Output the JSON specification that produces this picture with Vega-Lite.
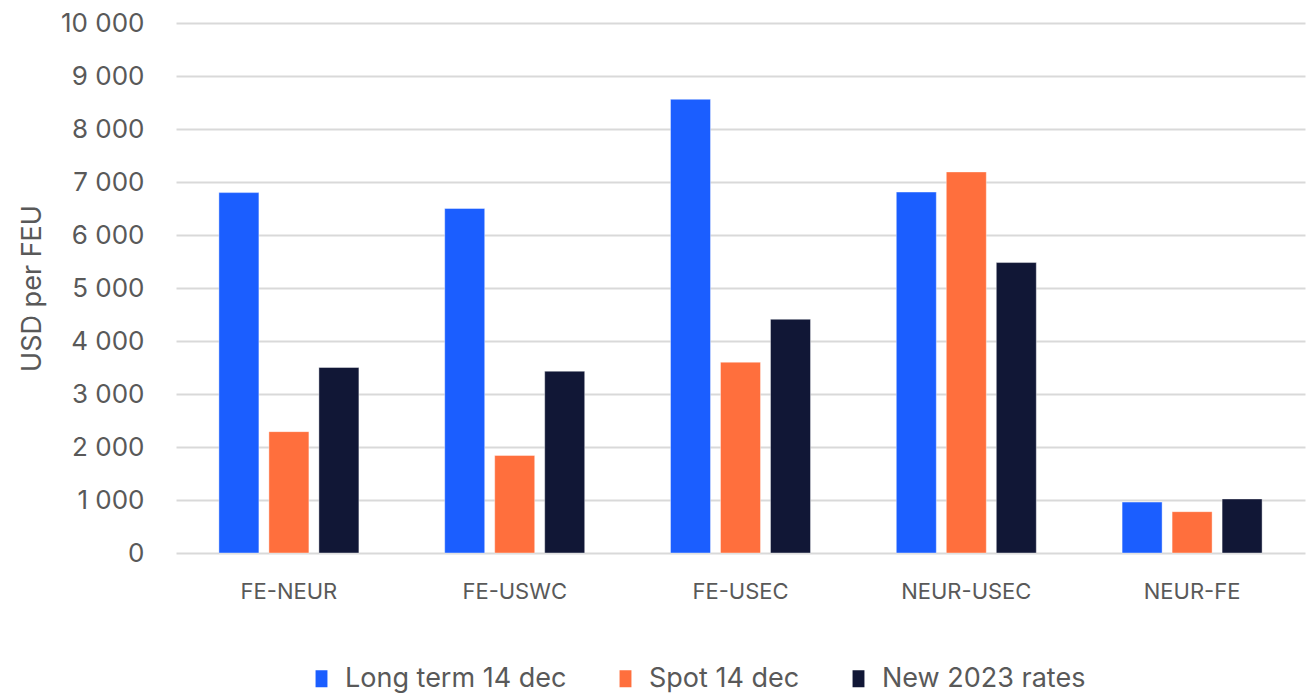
{
  "$schema": "https://vega.github.io/schema/vega-lite/v6.json",
  "width": 1129,
  "height": 530,
  "autosize": "none",
  "padding": {"left": 176, "top": 23, "right": 9, "bottom": 140},
  "background": "white",
  "data": {
    "values": [
      {"route": "FE-NEUR", "series": "Long term 14 dec", "value": 6800},
      {"route": "FE-NEUR", "series": "Spot 14 dec", "value": 2290},
      {"route": "FE-NEUR", "series": "New 2023 rates", "value": 3500},
      {"route": "FE-USWC", "series": "Long term 14 dec", "value": 6500},
      {"route": "FE-USWC", "series": "Spot 14 dec", "value": 1840},
      {"route": "FE-USWC", "series": "New 2023 rates", "value": 3430},
      {"route": "FE-USEC", "series": "Long term 14 dec", "value": 8560},
      {"route": "FE-USEC", "series": "Spot 14 dec", "value": 3600},
      {"route": "FE-USEC", "series": "New 2023 rates", "value": 4410},
      {"route": "NEUR-USEC", "series": "Long term 14 dec", "value": 6810},
      {"route": "NEUR-USEC", "series": "Spot 14 dec", "value": 7190},
      {"route": "NEUR-USEC", "series": "New 2023 rates", "value": 5480},
      {"route": "NEUR-FE", "series": "Long term 14 dec", "value": 960},
      {"route": "NEUR-FE", "series": "Spot 14 dec", "value": 780},
      {"route": "NEUR-FE", "series": "New 2023 rates", "value": 1020}
    ]
  },
  "mark": {"type": "bar", "strokeWidth": 1, "strokeOpacity": 0.4, "stroke": "white"},
  "encoding": {
    "x": {
      "field": "route",
      "type": "nominal",
      "sort": ["FE-NEUR", "FE-USWC", "FE-USEC", "NEUR-USEC", "NEUR-FE"],
      "scale": {"paddingInner": 0.38, "paddingOuter": 0.19},
      "axis": {
        "title": null,
        "labelAngle": 0,
        "domain": false,
        "ticks": false,
        "labelPadding": 28,
        "labelFontSize": 22,
        "labelColor": "#595959",
        "labelFont": "Inter"
      }
    },
    "xOffset": {
      "field": "series",
      "type": "nominal",
      "sort": ["Long term 14 dec", "Spot 14 dec", "New 2023 rates"],
      "scale": {"paddingInner": 0.2, "paddingOuter": 0}
    },
    "y": {
      "field": "value",
      "type": "quantitative",
      "scale": {"domain": [0, 10000], "nice": false},
      "axis": {
        "title": "USD per FEU",
        "values": [0, 1000, 2000, 3000, 4000, 5000, 6000, 7000, 8000, 9000, 10000],
        "labelExpr": "replace(format(datum.value, ','), ',', ' ')",
        "domain": false,
        "ticks": false,
        "labelPadding": 32,
        "labelFontSize": 26,
        "labelColor": "#595959",
        "labelFont": "Inter",
        "titleFont": "Inter",
        "titleFontSize": 27,
        "titleFontWeight": "normal",
        "titleColor": "#595959",
        "titlePadding": 14,
        "gridColor": "#d9d9d9",
        "gridWidth": 2
      }
    },
    "color": {
      "field": "series",
      "type": "nominal",
      "sort": ["Long term 14 dec", "Spot 14 dec", "New 2023 rates"],
      "scale": {
        "domain": ["Long term 14 dec", "Spot 14 dec", "New 2023 rates"],
        "range": ["#1B5EFF", "#FF6F3D", "#111736"]
      },
      "legend": {
        "title": null,
        "orient": "none",
        "direction": "horizontal",
        "legendX": 132,
        "legendY": 642,
        "symbolType": "M-0.7,-1H0.7V1H-0.7Z",
        "symbolSize": 289,
        "symbolStrokeWidth": 0,
        "labelFontSize": 27,
        "labelFont": "Inter",
        "labelColor": "#595959",
        "labelLimit": 400,
        "labelOffset": 10,
        "columnPadding": 45
      }
    }
  },
  "config": {
    "view": {"stroke": null},
    "font": "Inter"
  }
}
